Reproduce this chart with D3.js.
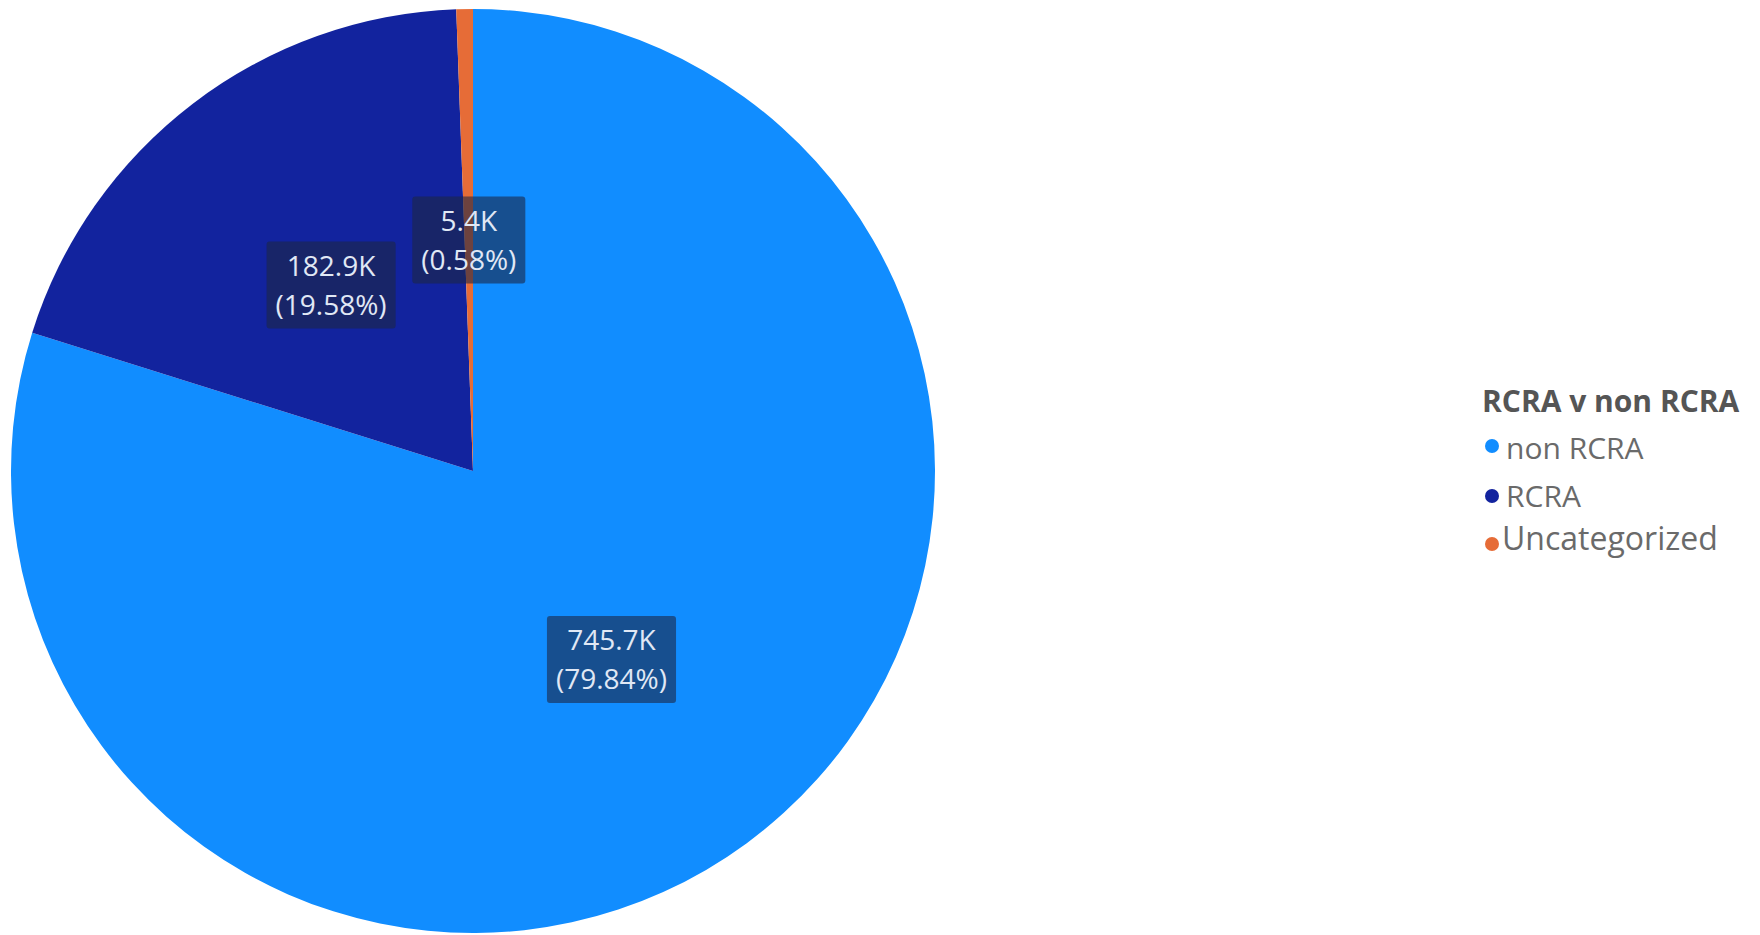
<!DOCTYPE html>
<html>
<head>
<meta charset="utf-8">
<script src="https://cdn.jsdelivr.net/npm/d3@7"></script>
<style>
  html, body { margin: 0; padding: 0; background: #ffffff; }
  svg { display: block; }
</style>
</head>
<body>
<svg id="chart" width="1760" height="935"></svg>
<script>
const categories = ["non RCRA", "RCRA", "Uncategorized"];
const values = [745.7, 182.9, 5.4];           // thousands
const valueLabels = ["745.7K", "182.9K", "5.4K"];
const percentLabels = ["(79.84%)", "(19.58%)", "(0.58%)"];
const colors = ["#118DFF", "#12239E", "#E66C37"];
const legendTitle = "RCRA v non RCRA";

const svg = d3.select("#chart");
const cx = 473, cy = 471, R = 462;

const data = categories.map((c, i) => ({ cat: c, value: values[i], vl: valueLabels[i], pl: percentLabels[i], color: colors[i] }));

const pie = d3.pie().sort(null).value(d => d.value);
const arc = d3.arc().innerRadius(0).outerRadius(R);
const arcs = pie(data);

const g = svg.append("g").attr("transform", `translate(${cx},${cy})`);
g.selectAll("path.slice").data(arcs).enter().append("path")
  .attr("class", "slice")
  .attr("d", arc)
  .attr("fill", d => d.data.color);

// labels
const fontFam = "'Open Sans', 'Noto Sans', 'DejaVu Sans', sans-serif";
const lblFs = 28, lineGap = 39;
const lg = g.selectAll("g.lbl").data(arcs).enter().append("g").attr("class", "lbl")
  .attr("transform", d => {
    const c = arc.centroid(d);
    const off = d.data.cat === "non RCRA" ? 3 : (d.data.cat === "RCRA" ? 3 : 0);
    const ang = (d.startAngle + d.endAngle) / 2;
    return `translate(${c[0] + off * Math.sin(ang)},${c[1] - off * Math.cos(ang)})`;
  });

lg.each(function(d) {
  const sel = d3.select(this);
  const rect = sel.append("rect").attr("rx", 3).attr("ry", 3)
    .attr("fill", "rgb(28,38,68)").attr("fill-opacity", 0.6);
  const t1 = sel.append("text").attr("text-anchor", "middle").attr("y", -lineGap / 2)
    .attr("dy", "0.36em").attr("font-family", fontFam).attr("font-size", lblFs)
    .attr("fill", "#E0E8F5").text(d.data.vl);
  const t2 = sel.append("text").attr("text-anchor", "middle").attr("y", lineGap / 2)
    .attr("dy", "0.36em").attr("font-family", fontFam).attr("font-size", lblFs)
    .attr("fill", "#E0E8F5").text(d.data.pl);
  const w = Math.max(t1.node().getComputedTextLength(), t2.node().getComputedTextLength()) + 18;
  const h = 87;
  rect.attr("x", -w / 2).attr("y", -h / 2).attr("width", w).attr("height", h);
});

// legend
const leg = svg.append("g");
leg.append("text").attr("x", 1482).attr("y", 401).attr("dy", "0.36em")
  .attr("font-family", fontFam).attr("font-weight", "bold").attr("font-size", 30)
  .attr("fill", "#555555").text(legendTitle);

const itemTextY = [448, 496, 538];
const itemDotY = [446, 496, 544];
const textX = [1506, 1506, 1502];
const dotX = [1492, 1492, 1492];
const itemFs = [30, 30, 32];
const li = leg.selectAll("g.item").data(data).enter().append("g").attr("class", "item");
li.append("circle").attr("cx", (d, i) => dotX[i]).attr("cy", (d, i) => itemDotY[i]).attr("r", 7)
  .attr("fill", d => d.color);
li.append("text").attr("x", (d, i) => textX[i]).attr("y", (d, i) => itemTextY[i]).attr("dy", "0.36em")
  .attr("font-family", fontFam).attr("font-size", (d, i) => itemFs[i]).attr("fill", "#6a6a6a")
  .text(d => d.cat);
</script>
</body>
</html>
